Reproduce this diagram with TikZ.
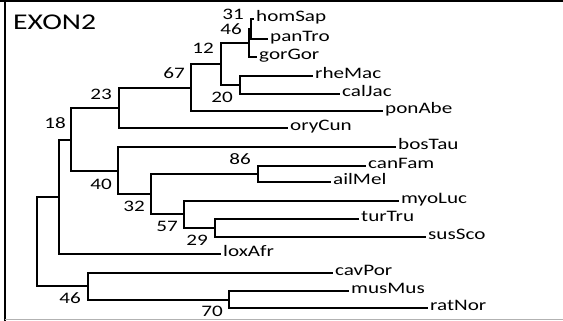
\documentclass[tikz,border=0pt]{standalone}
\usepackage{fontspec}
\setmainfont{Carlito}[FakeStretch=1.32]
\tikzset{
  branch/.style={line width=1.6pt, black, line cap=rect},
  taxon/.style={anchor=west, inner sep=0pt, font=\fontsize{16}{19}\selectfont, text height=0.68em, text depth=0.18em},
  support/.style={inner sep=0pt, font=\fontsize{16}{19}\selectfont, text height=0.64em, text depth=0pt},
  frameline/.style={line width=2pt, black},
}
\begin{document}
\begin{tikzpicture}[x=1pt, y=-1pt]
\useasboundingbox (0,0) rectangle (563,321);

% frame
\draw[frameline] (0,1.5) -- (563,1.5);
\draw[frameline] (5,0) -- (5,321);
\draw[line width=1.5pt, black!30] (5,319.5) -- (563,319.5);

\node[anchor=west, inner sep=0pt, font=\fontsize{22.5}{26}\selectfont] (title) at (13,22) {EXON2};

% internal nodes
\coordinate (n31) at (251,29);
\coordinate (n46a) at (249,43);
\coordinate (n20) at (240,85);
\coordinate (n12) at (221,64);
\coordinate (n67) at (191,88);
\coordinate (n23) at (119,108);
\coordinate (n86) at (258,174);
\coordinate (n29) at (215,228);
\coordinate (n57) at (184,214);
\coordinate (n32) at (151,194);
\coordinate (n40) at (118,171);
\coordinate (n18) at (71,140);
\coordinate (n70) at (229,300);
\coordinate (n46b) at (88,286);
\coordinate (nL) at (59,197);
\coordinate (root) at (37,242);

% leaf tips
\coordinate (homSap) at (253,19);
\coordinate (panTro) at (267,39);
\coordinate (gorGor) at (256,57);
\coordinate (rheMac) at (312,76);
\coordinate (calJac) at (339,94);
\coordinate (ponAbe) at (382,111);
\coordinate (oryCun) at (287,128);
\coordinate (bosTau) at (395,147);
\coordinate (canFam) at (365,166);
\coordinate (ailMel) at (330,182);
\coordinate (myoLuc) at (398,201);
\coordinate (turTru) at (358,219);
\coordinate (susSco) at (425,237);
\coordinate (loxAfr) at (220,254);
\coordinate (cavPor) at (332,273);
\coordinate (musMus) at (348,291);
\coordinate (ratNor) at (427,308);

% branches
\draw[branch] (n31) |- (homSap);
\draw[branch] (n31) |- (panTro);
\draw[branch] (n46a) |- (n31);
\draw[branch] (n46a) |- (gorGor);
\draw[branch] (n20) |- (rheMac);
\draw[branch] (n20) |- (calJac);
\draw[branch] (n12) |- (n46a);
\draw[branch] (n12) |- (n20);
\draw[branch] (n67) |- (n12);
\draw[branch] (n67) |- (ponAbe);
\draw[branch] (n23) |- (n67);
\draw[branch] (n23) |- (oryCun);
\draw[branch] (n86) |- (canFam);
\draw[branch] (n86) |- (ailMel);
\draw[branch] (n29) |- (turTru);
\draw[branch] (n29) |- (susSco);
\draw[branch] (n57) |- (myoLuc);
\draw[branch] (n57) |- (n29);
\draw[branch] (n32) |- (n86);
\draw[branch] (n32) |- (n57);
\draw[branch] (n40) |- (bosTau);
\draw[branch] (n40) |- (n32);
\draw[branch] (n18) |- (n23);
\draw[branch] (n18) |- (n40);
\draw[branch] (nL) |- (n18);
\draw[branch] (nL) |- (loxAfr);
\draw[branch] (n70) |- (musMus);
\draw[branch] (n70) |- (ratNor);
\draw[branch] (n46b) |- (cavPor);
\draw[branch] (n46b) |- (n70);
\draw[branch] (root) |- (nL);
\draw[branch] (root) |- (n46b);

% taxon labels
\foreach \t in {homSap,panTro,gorGor,rheMac,calJac,ponAbe,oryCun,bosTau,canFam,ailMel,myoLuc,turTru,susSco,loxAfr,cavPor,musMus,ratNor}
  \node[taxon] (lab-\t) at ([xshift=3pt]\t) {\t};

% support values
\node[support] (s31) at (233,16) {31};
\node[support] (s46a) at (231,31) {46};
\node[support] (s12) at (203,50) {12};
\node[support] (s67) at (174,75) {67};
\node[support] (s20) at (222,99) {20};
\node[support] (s23) at (101,96) {23};
\node[support] (s18) at (55,125) {18};
\node[support] (s86) at (240,161) {86};
\node[support] (s40) at (101,186) {40};
\node[support] (s32) at (134,208) {32};
\node[support] (s57) at (167,228) {57};
\node[support] (s29) at (197,242) {29};
\node[support] (s46b) at (70,300) {46};
\node[support] (s70) at (212,313) {70};
\end{tikzpicture}
\end{document}
